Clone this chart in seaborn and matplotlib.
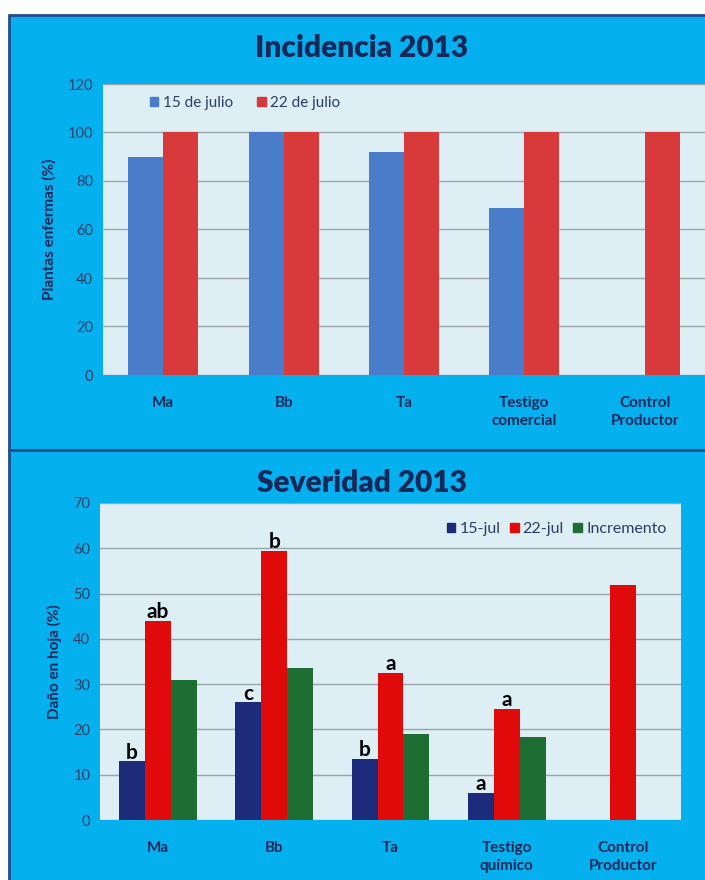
import matplotlib
matplotlib.use("Agg")
import matplotlib.pyplot as plt
import seaborn as sns
import pandas as pd
import numpy as np
from matplotlib.patches import Rectangle, Patch

sns.set_theme(style="white")
plt.rcParams['font.family'] = ['Lato', 'DejaVu Sans']

# ---------- data ----------
inc_categories = ["Ma", "Bb", "Ta", "Testigo\ncomercial", "Control\nProductor"]
inc_series = ["15 de julio", "22 de julio"]
inc_15 = [90, 100, 92, 69, np.nan]
inc_22 = [100, 100, 100, 100, 100]

sev_categories = ["Ma", "Bb", "Ta", "Testigo\nquímico", "Control\nProductor"]
sev_series = ["15-jul", "22-jul", "Incremento"]
sev_15 = [13, 26, 13.5, 6, np.nan]
sev_22 = [44, 59.5, 32.5, 24.5, 52]
sev_inc = [31, 33.5, 19, 18.3, np.nan]
sev_letters_15 = ["b", "c", "b", "a", ""]
sev_letters_22 = ["ab", "b", "a", "a", ""]

inc_ticks = [0, 20, 40, 60, 80, 100, 120]
sev_ticks = [0, 10, 20, 30, 40, 50, 60, 70]

# ---------- styles ----------
W, H = 705, 880
OUTER = "#05B0EE"
BORDER = "#1F4E8C"
PLOT_BG = "#DDEEF4"
NAVY_TXT = "#14285A"
TICK_TXT = "#2A3F66"
inc_colors = ["#4A7DC9", "#D8393A"]
sev_colors = ["#1C2B7A", "#E00A0A", "#1E6E34"]

fig = plt.figure(figsize=(W / 100, H / 100), dpi=100)
fig.patch.set_facecolor("white")

def px(x, y, w, h):
    return [x / W, 1 - (y + h) / H, w / W, h / H]

# panels
for (x0, y0, x1, y1) in [(9, 15, 706, 450), (9, 450, 706, 881)]:
    fig.patches.append(Rectangle((x0 / W, 1 - y1 / H), (x1 - x0) / W, (y1 - y0) / H,
                                 transform=fig.transFigure, facecolor=OUTER,
                                 edgecolor=BORDER, linewidth=2, zorder=-5))

def style_axis(ax, ticks, ylim, ylabel):
    ax.set_facecolor(PLOT_BG)
    ax.set_ylim(*ylim)
    ax.set_yticks(ticks)
    ax.yaxis.grid(True, color="#9AA4AA", linewidth=1, zorder=0)
    ax.set_axisbelow(True)
    for s in ax.spines.values():
        s.set_visible(False)
    ax.set_xlabel("")
    ax.set_ylabel(ylabel, fontsize=11, fontweight="bold", color=NAVY_TXT, labelpad=8)
    ax.tick_params(axis="y", labelsize=10.5, labelcolor=TICK_TXT, length=0, pad=7)
    ax.tick_params(axis="x", labelsize=11, labelcolor=NAVY_TXT, length=0, pad=15)
    for t in ax.get_xticklabels():
        t.set_fontweight("bold")
        t.set_linespacing(1.35)

# ---------- top chart ----------
df_inc = pd.DataFrame({
    "cat": inc_categories * 2,
    "serie": [inc_series[0]] * 5 + [inc_series[1]] * 5,
    "val": inc_15 + inc_22,
})
ax1 = fig.add_axes(px(103, 84, 602, 291))
sns.barplot(data=df_inc, x="cat", y="val", hue="serie", palette=inc_colors,
            width=0.58, ax=ax1, saturation=1, legend=False, zorder=3, linewidth=0)
style_axis(ax1, inc_ticks, (0, 120), "Plantas enfermas (%)")
ax1.legend(handles=[Patch(color=c, label=l) for c, l in zip(inc_colors, inc_series)],
           loc="upper left", bbox_to_anchor=(0.055, 1.005), ncol=2, frameon=False,
           fontsize=11, handlelength=0.55, handleheight=0.55, handletextpad=0.3,
           columnspacing=1.6, labelcolor=TICK_TXT)
fig.text(362 / W, 1 - 48 / H, "Incidencia 2013", ha="center", va="center",
         fontsize=21.5, fontweight="heavy", color=NAVY_TXT)

# ---------- bottom chart ----------
df_sev = pd.DataFrame({
    "cat": sev_categories * 3,
    "serie": [sev_series[0]] * 5 + [sev_series[1]] * 5 + [sev_series[2]] * 5,
    "val": sev_15 + sev_22 + sev_inc,
})
ax2 = fig.add_axes(px(100, 503, 581, 317))
sns.barplot(data=df_sev, x="cat", y="val", hue="serie", palette=sev_colors,
            width=0.67, ax=ax2, saturation=1, legend=False, zorder=3, linewidth=0)
style_axis(ax2, sev_ticks, (0, 70), "Daño en hoja (%)")
ax2.legend(handles=[Patch(color=c, label=l) for c, l in zip(sev_colors, sev_series)],
           loc="upper right", bbox_to_anchor=(1.0, 0.985), ncol=3, frameon=False,
           fontsize=11.5, handlelength=0.55, handleheight=0.55, handletextpad=0.25,
           columnspacing=0.6, labelcolor=TICK_TXT)
fig.text(362 / W, 1 - 483 / H, "Severidad 2013", ha="center", va="center",
         fontsize=21.5, fontweight="heavy", color=NAVY_TXT)

# letters (positioned from the drawn bars)
for cont, labels in zip(ax2.containers[:2], [sev_letters_15, sev_letters_22]):
    for bar in cont.patches:
        if bar is None:
            continue
        h = bar.get_height()
        if h is None or np.isnan(h):
            continue
        xc = bar.get_x() + bar.get_width() / 2
        idx = int(round(xc))
        if labels[idx]:
            ax2.annotate(labels[idx], (xc, h), xytext=(0, -1), textcoords="offset points",
                         ha="center", va="bottom", fontsize=15, fontweight="bold",
                         color="black", zorder=5)

fig.savefig("out.png", dpi=100, facecolor=fig.get_facecolor())
